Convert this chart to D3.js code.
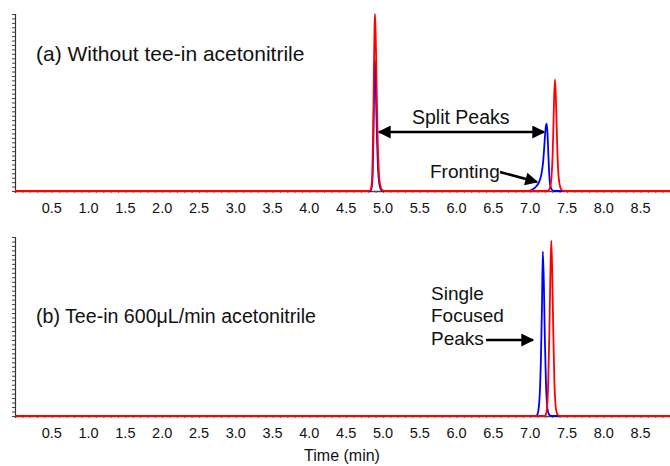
<!DOCTYPE html>
<html>
<head>
<meta charset="utf-8">
<script src="https://cdn.jsdelivr.net/npm/d3@7/dist/d3.min.js"></script>
<style>
  html, body { margin: 0; padding: 0; background: #fff; }
  svg { display: block; font-family: "Liberation Sans", Arial, sans-serif; }
</style>
</head>
<body>
<svg id="chart" width="670" height="466"></svg>
<script>
// ---- data (time in min, relative intensity %) ----
const tickLabels = ["0.5","1.0","1.5","2.0","2.5","3.0","3.5","4.0","4.5","5.0","5.5","6.0","6.5","7.0","7.5","8.0","8.5"];
const tickValues = [0.5,1.0,1.5,2.0,2.5,3.0,3.5,4.0,4.5,5.0,5.5,6.0,6.5,7.0,7.5,8.0,8.5];

// Panel (a): without tee-in acetonitrile
const blueA = [
  [0,0],[4.83,0],[4.85,3],[4.86,10],[4.87,30],[4.88,58],[4.89,74],[4.90,64],[4.91,45],[4.92,28],
  [4.93,15],[4.94,8],[4.955,3],[4.97,1],[5.0,0],
  [6.98,0],[7.03,0.8],[7.07,2],[7.10,3.5],[7.13,6],[7.155,10],[7.175,16],[7.19,24],[7.205,33],
  [7.215,37],[7.224,38],[7.235,33],[7.245,23],[7.255,13],[7.265,6],[7.28,2],[7.30,0.5],[7.33,0],[8.9,0]
];
const redA = [
  [0,0],[4.80,0],[4.83,0.5],[4.845,3],[4.855,10],[4.865,30],[4.875,62],[4.885,92],[4.891,100],
  [4.90,90],[4.91,68],[4.92,45],[4.93,26],[4.94,14],[4.95,7],[4.965,3],[4.98,1],[5.00,0.3],[5.03,0],
  [7.24,0],[7.27,2],[7.29,8],[7.305,20],[7.315,35],[7.325,52],[7.337,63],[7.35,52],[7.36,37],
  [7.37,22],[7.38,12],[7.395,5],[7.41,2],[7.43,0.5],[7.46,0],[8.9,0]
];

// Panel (b): tee-in 600 uL/min acetonitrile
const blueB = [
  [0,0],[7.08,0],[7.10,1],[7.115,4],[7.13,12],[7.145,30],[7.16,60],[7.172,92],[7.187,72],[7.20,42],
  [7.215,18],[7.23,6],[7.245,2],[7.265,0.5],[7.29,0],[8.9,0]
];
const redB = [
  [0,0],[7.20,0],[7.215,1],[7.23,5],[7.245,18],[7.26,45],[7.275,80],[7.287,98],[7.30,80],[7.315,45],
  [7.33,18],[7.345,6],[7.36,2],[7.38,0.5],[7.41,0],[8.9,0]
];

const titleA = "(a) Without tee-in acetonitrile";
const titleB = "(b) Tee-in 600\u03BCL/min acetonitrile";
const xTitle = "Time (min)";

// ---- drawing ----
const svg = d3.select("#chart");
const x = d3.scaleLinear().domain([0, 8.9]).range([15, 670]);

const panels = [
  { top: 14, base: 191, blue: blueA, red: redA, title: titleA, titleY: 61, titleSize: 21 },
  { top: 237, base: 416, blue: blueB, red: redB, title: titleB, titleY: 323, titleSize: 19.6 }
];

const minorX = d3.range(0.1, 8.9, 0.1);
const minorY = d3.range(0, 100.01, 2.5);

panels.forEach(p => {
  const y = d3.scaleLinear().domain([0, 100]).range([p.base, p.top]);
  const g = svg.append("g");

  // y axis with minor ticks
  const ya = d3.axisLeft(y).tickValues(minorY).tickSize(3).tickFormat("");
  g.append("g").attr("transform", `translate(${x(0)},0)`).call(ya)
    .call(s => s.select(".domain").attr("stroke", "#333").attr("stroke-width", 1.2))
    .call(s => s.selectAll(".tick line").attr("stroke", "#444"));

  // x axis minor ticks
  const xa = d3.axisBottom(x).tickValues(minorX).tickSize(2).tickFormat("");
  g.append("g").attr("transform", `translate(0,${p.base})`).call(xa)
    .call(s => s.select(".domain").attr("stroke", "#444").attr("stroke-width", 1.5))
    .call(s => s.selectAll(".tick line").attr("stroke", "#666"));

  // tick labels
  g.selectAll(".xl").data(tickValues).enter().append("text")
    .attr("x", d => x(d)).attr("y", p.base + 22)
    .attr("text-anchor", "middle").attr("font-size", 14.5).attr("fill", "#111")
    .text((d, i) => tickLabels[i]);

  const line = d3.line().x(d => x(d[0])).y(d => y(d[1])).curve(d3.curveMonotoneX);
  g.append("path").datum(p.blue).attr("d", line)
    .attr("fill", "none").attr("stroke", "#0000ff").attr("stroke-width", 1.8);
  g.append("path").datum(p.red).attr("d", line)
    .attr("fill", "none").attr("stroke", "#ff0000").attr("stroke-width", 1.8);

  g.append("text").attr("x", 36).attr("y", p.titleY)
    .attr("font-size", p.titleSize).attr("fill", "#111").text(p.title);
});

// axis title
svg.append("text").attr("x", 342).attr("y", 461).attr("text-anchor", "middle")
  .attr("font-size", 16).attr("fill", "#111").text(xTitle);

// arrow markers (solid triangles)
const defs = svg.append("defs");
defs.append("marker").attr("id", "ah").attr("viewBox", "0 0 10 10")
  .attr("refX", 9).attr("refY", 5).attr("markerWidth", 6.2).attr("markerHeight", 5.2)
  .attr("markerUnits", "strokeWidth").attr("orient", "auto-start-reverse")
  .append("path").attr("d", "M0,0 L10,5 L0,10 Z").attr("fill", "#000");

// Split peaks double arrow
svg.append("line").attr("x1", 379).attr("y1", 132).attr("x2", 544).attr("y2", 132)
  .attr("stroke", "#000").attr("stroke-width", 2.5)
  .attr("marker-start", "url(#ah)").attr("marker-end", "url(#ah)");
svg.append("text").attr("x", 412).attr("y", 124).attr("font-size", 19.5).attr("fill", "#111").text("Split Peaks");

// Fronting
svg.append("text").attr("x", 430).attr("y", 178).attr("font-size", 19).attr("fill", "#111").text("Fronting");
svg.append("line").attr("x1", 500).attr("y1", 172).attr("x2", 537).attr("y2", 182)
  .attr("stroke", "#000").attr("stroke-width", 2.5).attr("marker-end", "url(#ah)");

// Single Focused Peaks
const sf = svg.append("text").attr("font-size", 19).attr("fill", "#111");
sf.append("tspan").attr("x", 431).attr("y", 300).text("Single");
sf.append("tspan").attr("x", 431).attr("y", 322).text("Focused");
sf.append("tspan").attr("x", 431).attr("y", 345).text("Peaks");
svg.append("line").attr("x1", 486).attr("y1", 340).attr("x2", 533).attr("y2", 340)
  .attr("stroke", "#000").attr("stroke-width", 2.5).attr("marker-end", "url(#ah)");
</script>
</body>
</html>
